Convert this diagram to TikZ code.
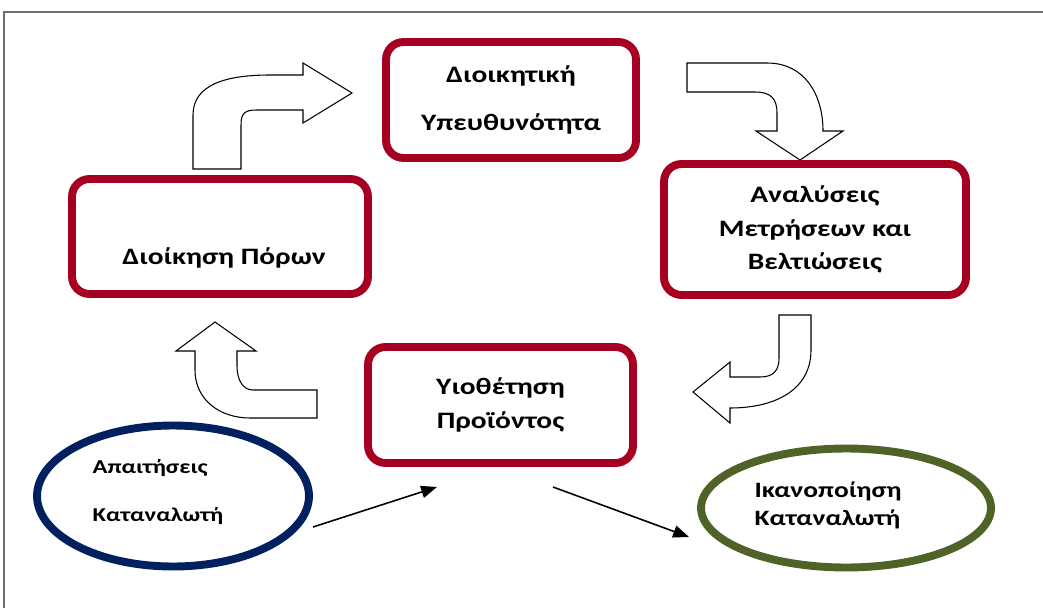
\documentclass[tikz,border=0pt]{standalone}
\usepackage{fontspec}
\setmainfont{Carlito}[FakeStretch=1.25]
\usetikzlibrary{arrows.meta,shapes.geometric}
\definecolor{boxred}{HTML}{A50021}
\definecolor{needsblue}{HTML}{002060}
\definecolor{satgreen}{HTML}{4F6228}
\definecolor{framegray}{HTML}{6F6F6F}
\tikzset{
	box/.style={draw=boxred, line width=4.5pt, rounded corners=0.35cm, align=center, font=\bfseries\fontsize{13.4}{15}\selectfont},
	oval/.style={ellipse, line width=4.5pt, align=center},
	bigarrow/.style={draw=black, fill=white, line width=0.6pt},
	flow/.style={-{Triangle[length=9pt,width=7pt]}, line width=0.9pt},
}
\begin{document}
\begin{tikzpicture}[x=0.02cm, y=-0.02cm]
		%%%%% START %%%%%
		\useasboundingbox (0, 0) rectangle (1043, 608);
		\draw[framegray, line width=1.1pt] (4, 608) -- (4, 12) -- (1043, 12);
		
		% the four boxes of the cycle
		\node[box, minimum width=5cm, minimum height=2.32cm] (duty) at (511, 100) {Διοικητική\\[12pt]Υπευθυνότητα};
		\node[box, minimum width=6.04cm, minimum height=2.62cm] (analysis) at (815, 229.5) {Αναλύσεις\\[4pt]Μετρήσεων και\\[4pt]Βελτιώσεις};
		\node[box, minimum width=5.92cm, minimum height=2.3cm] (resources) at (220, 236.5) {};
		\node[font=\bfseries\fontsize{13.4}{15}\selectfont] (resourcestext) at (224, 258) {Διοίκηση Πόρων};
		\node[box, minimum width=5.3cm, minimum height=2.32cm] (adoption) at (500.5, 405) {Υιοθέτηση\\[4pt]Προϊόντος};
		
		% customer ovals
		\node[oval, draw=needsblue, minimum width=5.44cm, minimum height=2.82cm] (needs) at (173, 496) {};
		\node[font=\bfseries\fontsize{11.2}{13}\selectfont, align=left] (needstext) at (158, 492) {Απαιτήσεις\\[14pt]Καταναλωτή};
		\node[oval, draw=satgreen, minimum width=5.8cm, minimum height=2.38cm] (satisfied) at (846, 508) {};
		\node[font=\bfseries\fontsize{12.5}{15}\selectfont, align=left] (satisfiedtext) at (828, 505) {Ικανοποίηση\\[1pt]Καταναλωτή};
		
		% block arrows
		\draw[bigarrow] (193, 169) -- (241, 169) -- (241, 125) .. controls (241, 113) and (245, 110) .. (257, 110)
			-- (303, 110) -- (303, 123) -- (352, 93) -- (303, 63) -- (303, 75) -- (270, 75)
			.. controls (225, 75) and (193, 85) .. (193, 115) -- cycle;
		\draw[bigarrow] (687, 63) -- (767, 63) .. controls (805, 63) and (823, 95) .. (823, 131) -- (843, 131)
			-- (800, 160) -- (756, 131) -- (777, 131) -- (777, 113) .. controls (777, 98) and (770, 92) .. (755, 92)
			-- (687, 92) -- cycle;
		\draw[bigarrow] (779, 315) -- (811, 315) -- (811, 350) .. controls (811, 390) and (775, 408) .. (730, 408)
			-- (730, 423) -- (693, 392) -- (730, 362) -- (730, 377) -- (760, 377)
			.. controls (774, 377) and (779, 370) .. (779, 358) -- cycle;
		\draw[bigarrow] (317, 390) -- (253, 390) .. controls (243, 390) and (237, 380) .. (237, 366) -- (237, 351)
			-- (256, 351) -- (215, 322) -- (176, 351) -- (195, 351) -- (195, 370)
			.. controls (195, 400) and (220, 418) .. (250, 418) -- (317, 418) -- cycle;
		
		% thin arrows
		\coordinate (needsout) at (313, 527);
		\coordinate (adoptionin) at (437, 487);
		\coordinate (adoptionout) at (553, 487);
		\coordinate (satisfiedin) at (689, 537);
		\draw[flow] (needsout) -- (adoptionin);
		\draw[flow] (adoptionout) -- (satisfiedin);
		%%%%% END %%%%%
\end{tikzpicture}
\end{document}
